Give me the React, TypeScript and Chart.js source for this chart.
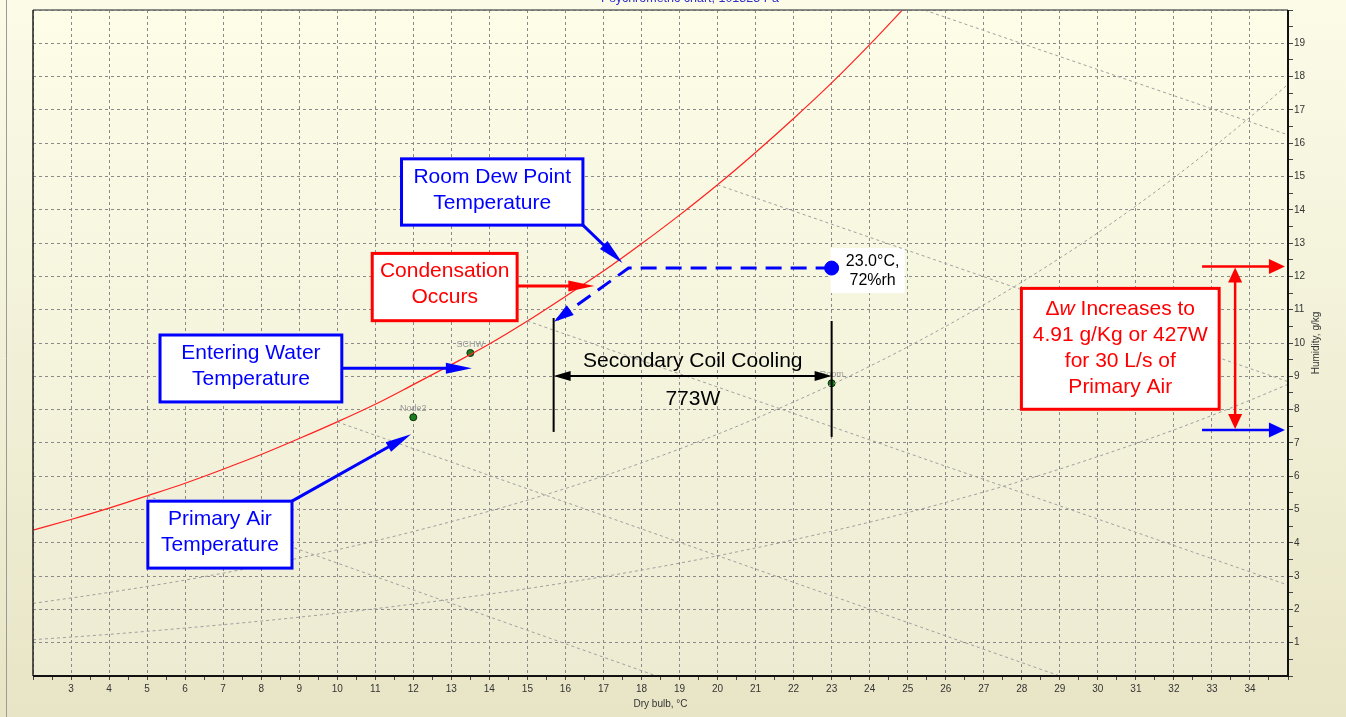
import { useEffect, useRef } from 'react';
import { Chart, registerables } from 'chart.js';

Chart.register(...registerables);

// Saturation line: dry-bulb (°C) vs moisture content (g/kg)
const satTemp = [2, 3, 4, 5, 6, 7, 8, 9, 10, 11, 12, 13, 14, 15, 16, 17, 18, 19, 20, 21, 22, 23, 24, 25];
const satHum = [4.38, 4.7, 5.04, 5.41, 5.79, 6.21, 6.65, 7.13, 7.63, 8.16, 8.75, 9.35, 9.97, 10.66, 11.4, 12.16, 12.98, 13.84, 14.75, 15.72, 16.74, 17.81, 18.96, 20.17];

// Relative humidity curves
const rhTemp = [2, 4, 6, 8, 10, 12, 14, 16, 18, 20, 22, 24, 26, 28, 30, 32, 34, 35];
const rh50Hum = [2.18, 2.51, 2.88, 3.31, 3.79, 4.34, 4.95, 5.63, 6.4, 7.26, 8.23, 9.3, 10.5, 11.83, 13.31, 14.96, 16.78, 17.77];
const rh25Hum = [1.09, 1.25, 1.44, 1.65, 1.89, 2.16, 2.46, 2.8, 3.18, 3.61, 4.09, 4.62, 5.21, 5.86, 6.59, 7.39, 8.28, 8.76];

// Constant wet-bulb lines (start on saturation, run down to the right)
const wb5Temp = [5, 18.4];
const wb5Hum = [5.41, 0];
const wb10Temp = [10, 29];
const wb10Hum = [7.63, 0];
const wb15Temp = [15, 35];
const wb15Hum = [10.66, 2.73];
const wb20Temp = [20, 35];
const wb20Hum = [14.75, 8.84];
const wb25Temp = [25, 35];
const wb25Hum = [20.17, 16.25];

// Named state points
const nodeNames = ['SCHW', 'Node2', 'Room'];
const nodeTemp = [13.5, 12.0, 23.0];
const nodeHum = [9.7, 7.77, 8.79];

// Room condition
const roomTemp = 23.0;
const roomHum = 12.25;
const roomText = ['23.0°C,', '72%rh'];

// Room air cooled to its dew point and beyond
const processTemp = [23.0, 17.66, 15.7];
const processHum = [12.25, 12.25, 10.64];

// Secondary coil cooling span
const coilTemp = [15.69, 23.0];
const coilTop = [10.75, 10.66];
const coilBottom = [7.33, 7.18];
const coilArrowHum = 9.01;
const coilText = ['Secondary Coil Cooling', '773W'];

// Moisture difference between room and primary air
const deltaHigh = 12.3;
const deltaLow = 7.39;
const deltaText = ['Increases to', '4.91 g/Kg or 427W', 'for 30 L/s of', 'Primary Air'];

// Axis tick labels
const xTickLabels = [3, 4, 5, 6, 7, 8, 9, 10, 11, 12, 13, 14, 15, 16, 17, 18, 19, 20, 21, 22, 23, 24, 25, 26, 27, 28, 29, 30, 31, 32, 33, 34];
const yTickLabels = [1, 2, 3, 4, 5, 6, 7, 8, 9, 10, 11, 12, 13, 14, 15, 16, 17, 18, 19];

const BLUE = '#0000FF';
const RED = '#FF0000';
const FONT = '"Liberation Sans", Arial, sans-serif';

// Callout boxes: [left °C, right °C, top g/kg, bottom g/kg], arrow from/to in data units
const callouts = [
  { lines: ['Room Dew Point', 'Temperature'], color: BLUE, box: [11.69, 16.46, 15.53, 13.54], from: [16.46, 13.54], to: [17.5, 12.4] },
  { lines: ['Condensation', 'Occurs'], color: RED, box: [10.92, 14.73, 12.69, 10.67], from: [14.73, 11.71], to: [16.76, 11.71] },
  { lines: ['Entering Water', 'Temperature'], color: BLUE, box: [5.34, 10.12, 10.24, 8.23], from: [10.12, 9.24], to: [13.54, 9.24] },
  { lines: ['Primary Air', 'Temperature'], color: BLUE, box: [5.02, 8.81, 5.25, 3.24], from: [8.81, 5.25], to: [11.94, 7.26] },
];
const deltaBox = [27.99, 33.19, 11.64, 8.01];
const deltaArrowTemp = [32.74, 34.92];
const deltaVertTemp = 33.61;

const pts = (xs: number[], ys: number[]) => xs.map((x, i) => ({ x, y: ys[i] }));

function drawHead(ctx: CanvasRenderingContext2D, x: number, y: number, ang: number, len: number, half: number, color: string) {
  const bx = x - len * Math.cos(ang);
  const by = y - len * Math.sin(ang);
  const px = -Math.sin(ang) * half;
  const py = Math.cos(ang) * half;
  ctx.fillStyle = color;
  ctx.beginPath();
  ctx.moveTo(x, y);
  ctx.lineTo(bx + px, by + py);
  ctx.lineTo(bx - px, by - py);
  ctx.closePath();
  ctx.fill();
}

function drawArrow(ctx: CanvasRenderingContext2D, x1: number, y1: number, x2: number, y2: number, color: string, width: number, len: number, half: number) {
  const ang = Math.atan2(y2 - y1, x2 - x1);
  ctx.save();
  ctx.setLineDash([]);
  ctx.strokeStyle = color;
  ctx.lineWidth = width;
  ctx.beginPath();
  ctx.moveTo(x1, y1);
  ctx.lineTo(x2 - (len - 2) * Math.cos(ang), y2 - (len - 2) * Math.sin(ang));
  ctx.stroke();
  drawHead(ctx, x2, y2, ang, len, half, color);
  ctx.restore();
}

const backgroundPlugin = {
  id: 'psyBackground',
  beforeDraw(chart: any) {
    const { ctx, chartArea: a, width, height } = chart;
    ctx.save();
    const g = ctx.createLinearGradient(0, 0, 0, height);
    g.addColorStop(0, '#FBFBE8');
    g.addColorStop(1, '#E8E5C6');
    ctx.fillStyle = g;
    ctx.fillRect(0, 0, width, height);
    const g2 = ctx.createLinearGradient(0, a.top, 0, a.bottom);
    g2.addColorStop(0, '#FDFDE8');
    g2.addColorStop(1, '#EDEBD2');
    ctx.fillStyle = g2;
    ctx.fillRect(a.left, a.top, a.right - a.left, a.bottom - a.top);
    ctx.strokeStyle = '#9a9a9a';
    ctx.lineWidth = 1;
    ctx.beginPath();
    ctx.moveTo(6.5, 0);
    ctx.lineTo(6.5, height);
    ctx.stroke();
    ctx.fillStyle = '#3030C8';
    ctx.font = `12.5px ${FONT}`;
    ctx.textAlign = 'center';
    ctx.textBaseline = 'alphabetic';
    ctx.fillText('Psychrometric chart, 101325 Pa', 690, 1.5);
    ctx.restore();
  },
  beforeDatasetsDraw(chart: any) {
    const { ctx, scales } = chart;
    const X = (v: number) => scales.x.getPixelForValue(v);
    const Y = (v: number) => scales.y.getPixelForValue(v);
    // white label behind the room condition marker
    const lx = X(roomTemp);
    const ly = Y(roomHum);
    ctx.save();
    ctx.fillStyle = '#FFFFFF';
    ctx.fillRect(lx - 1, ly - 20, 74, 45);
    ctx.fillStyle = '#000';
    ctx.font = `16px ${FONT}`;
    ctx.textAlign = 'center';
    ctx.textBaseline = 'alphabetic';
    ctx.fillText(roomText[0], lx + 41, ly - 2);
    ctx.fillText(roomText[1], lx + 41, ly + 17);
    ctx.restore();
  },
  afterDatasetsDraw(chart: any) {
    const { ctx, scales } = chart;
    const X = (v: number) => scales.x.getPixelForValue(v);
    const Y = (v: number) => scales.y.getPixelForValue(v);
    ctx.save();

    // node labels
    ctx.font = `9px ${FONT}`;
    ctx.fillStyle = '#9a9a9a';
    ctx.textAlign = 'center';
    ctx.textBaseline = 'alphabetic';
    nodeNames.forEach((n, i) => {
      ctx.fillText(n, X(nodeTemp[i]), Y(nodeHum[i]) - 6);
    });

    // arrowhead on the cooling process line
    const n = processTemp.length;
    const tx = X(processTemp[n - 1]);
    const ty = Y(processHum[n - 1]);
    const ang = Math.atan2(ty - Y(processHum[n - 2]), tx - X(processTemp[n - 2]));
    drawHead(ctx, tx, ty, ang, 20, 6, BLUE);

    // callout boxes
    callouts.forEach((c) => {
      const x1 = X(c.box[0]);
      const x2 = X(c.box[1]);
      const y1 = Y(c.box[2]);
      const y2 = Y(c.box[3]);
      ctx.fillStyle = '#FFFFFF';
      ctx.fillRect(x1, y1, x2 - x1, y2 - y1);
      ctx.strokeStyle = c.color;
      ctx.lineWidth = 3;
      ctx.setLineDash([]);
      ctx.strokeRect(x1, y1, x2 - x1, y2 - y1);
      ctx.fillStyle = c.color;
      ctx.font = `21px ${FONT}`;
      ctx.textAlign = 'center';
      ctx.textBaseline = 'alphabetic';
      c.lines.forEach((l, i) => ctx.fillText(l, (x1 + x2) / 2, y1 + 24 + i * 26));
      drawArrow(ctx, X(c.from[0]), Y(c.from[1]), X(c.to[0]), Y(c.to[1]), c.color, 3, 26, 5.5);
    });

    // secondary coil span
    ctx.strokeStyle = '#000';
    ctx.lineWidth = 2;
    ctx.setLineDash([]);
    coilTemp.forEach((t, i) => {
      ctx.beginPath();
      ctx.moveTo(X(t), Y(coilTop[i]));
      ctx.lineTo(X(t), Y(coilBottom[i]));
      ctx.stroke();
    });
    const ay = Y(coilArrowHum);
    const ax1 = X(coilTemp[0]);
    const ax2 = X(coilTemp[1]);
    ctx.lineWidth = 2;
    ctx.beginPath();
    ctx.moveTo(ax1 + 10, ay);
    ctx.lineTo(ax2 - 10, ay);
    ctx.stroke();
    drawHead(ctx, ax1, ay, Math.PI, 17, 5, '#000');
    drawHead(ctx, ax2, ay, 0, 17, 5, '#000');
    ctx.fillStyle = '#000';
    ctx.font = `21px ${FONT}`;
    ctx.textAlign = 'center';
    ctx.fillText(coilText[0], X(19.35), Y(9.29));
    ctx.fillText(coilText[1], X(19.35), Y(8.14));

    // moisture difference callout
    const dx1 = X(deltaBox[0]);
    const dx2 = X(deltaBox[1]);
    const dy1 = Y(deltaBox[2]);
    const dy2 = Y(deltaBox[3]);
    ctx.fillStyle = '#FFFFFF';
    ctx.fillRect(dx1, dy1, dx2 - dx1, dy2 - dy1);
    ctx.strokeStyle = RED;
    ctx.lineWidth = 3;
    ctx.strokeRect(dx1, dy1, dx2 - dx1, dy2 - dy1);
    ctx.fillStyle = RED;
    const cx = (dx1 + dx2) / 2;
    ctx.font = `21px ${FONT}`;
    const wDelta = ctx.measureText('Δ').width;
    const wSpace = ctx.measureText(' ' + deltaText[0]).width;
    ctx.font = `italic 21px ${FONT}`;
    const wW = ctx.measureText('w').width;
    let sx = cx - (wDelta + wW + wSpace) / 2;
    ctx.textAlign = 'left';
    ctx.font = `21px ${FONT}`;
    ctx.fillText('Δ', sx, dy1 + 27);
    sx += wDelta;
    ctx.font = `italic 21px ${FONT}`;
    ctx.fillText('w', sx, dy1 + 27);
    sx += wW;
    ctx.font = `21px ${FONT}`;
    ctx.fillText(' ' + deltaText[0], sx, dy1 + 27);
    ctx.textAlign = 'center';
    for (let i = 1; i < deltaText.length; i++) {
      ctx.fillText(deltaText[i], cx, dy1 + 27 + i * 26);
    }

    const hx1 = X(deltaArrowTemp[0]);
    const hx2 = X(deltaArrowTemp[1]);
    drawArrow(ctx, hx1, Y(deltaHigh), hx2, Y(deltaHigh), RED, 2.5, 16, 7.5);
    drawArrow(ctx, hx1, Y(deltaLow), hx2, Y(deltaLow), BLUE, 2.5, 16, 7.5);
    const vx = X(deltaVertTemp);
    ctx.strokeStyle = RED;
    ctx.lineWidth = 2.5;
    ctx.beginPath();
    ctx.moveTo(vx, Y(deltaHigh) + 12);
    ctx.lineTo(vx, Y(deltaLow) - 12);
    ctx.stroke();
    drawHead(ctx, vx, Y(deltaHigh) + 1, -Math.PI / 2, 15, 7, RED);
    drawHead(ctx, vx, Y(deltaLow) - 1, Math.PI / 2, 15, 7, RED);

    ctx.restore();
  },
  afterDraw(chart: any) {
    const { ctx, chartArea: a } = chart;
    ctx.save();
    ctx.setLineDash([]);
    ctx.strokeStyle = '#666';
    ctx.lineWidth = 1.5;
    ctx.beginPath();
    ctx.moveTo(a.left, a.top);
    ctx.lineTo(a.right, a.top);
    ctx.stroke();
    ctx.strokeStyle = '#222';
    ctx.beginPath();
    ctx.moveTo(a.left, a.top);
    ctx.lineTo(a.left, a.bottom);
    ctx.stroke();
    ctx.strokeStyle = '#111';
    ctx.lineWidth = 2;
    ctx.beginPath();
    ctx.moveTo(a.left, a.bottom);
    ctx.lineTo(a.right, a.bottom);
    ctx.lineTo(a.right, a.top);
    ctx.stroke();

    ctx.fillStyle = '#333';
    ctx.font = `10px ${FONT}`;
    ctx.textAlign = 'center';
    ctx.textBaseline = 'alphabetic';
    ctx.fillText('Dry bulb, °C', (a.left + a.right) / 2, 707);
    ctx.translate(1319, (a.top + a.bottom) / 2);
    ctx.rotate(-Math.PI / 2);
    ctx.fillText('Humidity, g/kg', 0, 0);
    ctx.restore();
  },
};

const gridColor = (ctx: any) => {
  const v = ctx.tick ? ctx.tick.value : 0;
  return Number.isInteger(v) ? '#8A8A8A' : 'rgba(0,0,0,0)';
};

export default function App() {
  const ref = useRef<HTMLCanvasElement | null>(null);

  useEffect(() => {
    document.body.style.margin = '0';
    const canvas = ref.current;
    if (!canvas) return;
    const guide = {
      borderColor: '#A0A0A0',
      borderWidth: 1,
      borderDash: [3, 3],
      pointRadius: 0,
      showLine: true,
      fill: false,
    };
    const chart = new Chart(canvas, {
      type: 'scatter',
      data: {
        datasets: [
          { ...guide, data: pts(rhTemp, rh50Hum), cubicInterpolationMode: 'monotone' },
          { ...guide, data: pts(rhTemp, rh25Hum), cubicInterpolationMode: 'monotone' },
          { ...guide, data: pts(wb5Temp, wb5Hum) },
          { ...guide, data: pts(wb10Temp, wb10Hum) },
          { ...guide, data: pts(wb15Temp, wb15Hum) },
          { ...guide, data: pts(wb20Temp, wb20Hum) },
          { ...guide, data: pts(wb25Temp, wb25Hum) },
          {
            data: pts(satTemp, satHum),
            borderColor: '#FF2020',
            borderWidth: 1.2,
            pointRadius: 0,
            showLine: true,
            cubicInterpolationMode: 'monotone',
          },
          {
            data: pts(processTemp, processHum),
            borderColor: BLUE,
            borderWidth: 3,
            borderDash: [16, 9],
            pointRadius: 0,
            showLine: true,
          },
          {
            data: pts(nodeTemp, nodeHum),
            pointRadius: 3.5,
            pointBackgroundColor: '#1E7D1E',
            pointBorderColor: '#0A300A',
            pointBorderWidth: 1,
            showLine: false,
          },
          {
            data: [{ x: roomTemp, y: roomHum }],
            pointRadius: 7,
            pointBackgroundColor: BLUE,
            pointBorderColor: BLUE,
            showLine: false,
          },
        ],
      } as any,
      options: {
        animation: false,
        responsive: false,
        devicePixelRatio: 1,
        layout: { padding: { left: 33, top: 10, right: 0, bottom: 0 } },
        plugins: {
          legend: { display: false },
          tooltip: { enabled: false },
          title: { display: false },
        },
        scales: {
          x: {
            type: 'linear',
            position: 'bottom',
            min: 2,
            max: 35,
            afterFit: (s: any) => {
              s.height = 41;
            },
            ticks: {
              stepSize: 0.5,
              autoSkip: false,
              maxRotation: 0,
              minRotation: 0,
              padding: 3,
              color: '#333',
              font: { size: 10, family: FONT },
              callback: (v: any) => (xTickLabels.includes(v) ? String(v) : ''),
            },
            grid: {
              color: gridColor,
              lineWidth: 1,
              tickLength: 4,
              tickColor: '#444',
              tickWidth: 1,
            },
            border: { display: false, dash: [3, 3] },
          },
          y: {
            type: 'linear',
            position: 'right',
            min: 0,
            max: 20,
            afterFit: (s: any) => {
              s.width = 58;
            },
            ticks: {
              stepSize: 0.5,
              autoSkip: false,
              padding: 1,
              color: '#333',
              font: { size: 10, family: FONT },
              callback: (v: any) => (yTickLabels.includes(v) ? String(v) : ''),
            },
            grid: {
              color: gridColor,
              lineWidth: 1,
              tickLength: 5,
              tickColor: '#444',
              tickWidth: 1,
            },
            border: { display: false, dash: [3, 3] },
          },
        },
      } as any,
      plugins: [backgroundPlugin],
    });
    return () => chart.destroy();
  }, []);

  return (
    <div style={{ width: 1346, height: 717 }}>
      <canvas ref={ref} width={1346} height={717} style={{ display: 'block' }} />
    </div>
  );
}
